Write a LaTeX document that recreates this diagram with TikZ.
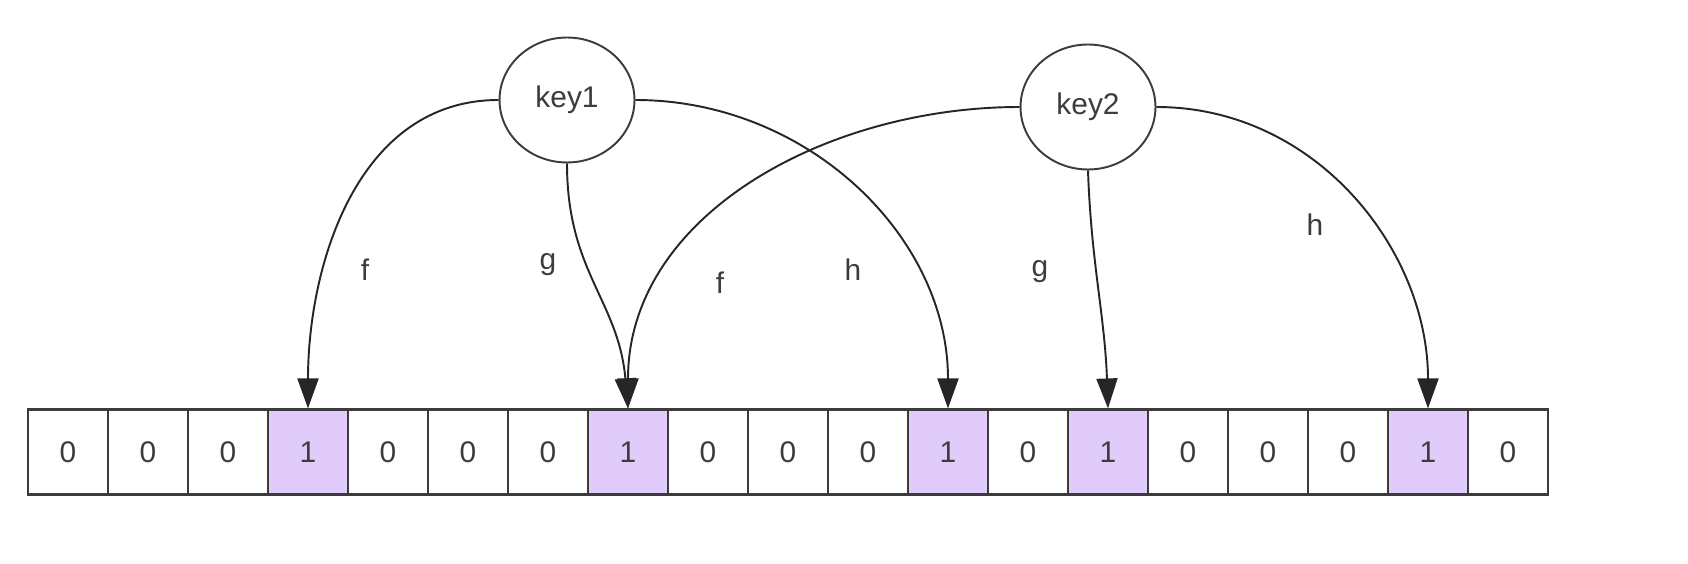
\documentclass[tikz,border=0pt]{standalone}
\usepackage{fontspec}
\setmainfont{Liberation Sans}
\usetikzlibrary{positioning,arrows.meta,shapes.geometric}
\definecolor{bitset}{RGB}{225,203,250}
\definecolor{txt}{RGB}{60,60,60}
\begin{document}
\begin{tikzpicture}[x=0.02cm, y=-0.02cm,
    every node/.style={font=\fontsize{17}{19}\selectfont, text=txt},
    cell0/.style={draw=txt, line width=1.2pt, minimum width=1.6cm, minimum height=1.7cm, inner sep=0pt, fill=white},
    cell1/.style={cell0, fill=bitset},
    key/.style={draw=txt, line width=1.1pt, ellipse, minimum width=2.7cm, minimum height=2.5cm, inner sep=0pt},
    arr/.style={line width=1.1pt, draw=black!85, -{Triangle[length=0.6cm, width=0.42cm]}},
    lbl/.style={font=\fontsize{17}{19}\selectfont}]
    \useasboundingbox (0,0) rectangle (1688,564);

    % Bit array
    \foreach \v [count=\i from 0] in {0,0,0,1,0,0,0,1,0,0,0,1,0,1,0,0,0,1,0}
        \node[cell\v] (c\i) at (68+80*\i,452) {\v};

    % Keys
    \node[key] (k1) at (567,100) {key1};
    \node[key] (k2) at (1088,107) {key2};

    % Hash arrows of key1
    \draw[arr] (k1.west) to[out=180, in=90] (c3.north);
    \draw[arr] (k1.south) to[out=-90, in=95, looseness=1.1] (c7.north);
    \draw[arr] (k1.east) to[out=0, in=90] (c11.north);

    % Hash arrows of key2
    \draw[arr] (k2.west) to[out=180, in=90] (c7.north);
    \draw[arr] (k2.south) to[out=-88, in=92] (c13.north);
    \draw[arr] (k2.east) to[out=0, in=90] (c17.north);

    % Labels
    \node[lbl] (f1) at (365,270) {f};
    \node[lbl] (g1) at (548,265) {g};
    \node[lbl] (h1) at (853,270) {h};
    \node[lbl] (f2) at (720,283) {f};
    \node[lbl] (g2) at (1040,272) {g};
    \node[lbl] (h2) at (1315,225) {h};
\end{tikzpicture}
\end{document}
